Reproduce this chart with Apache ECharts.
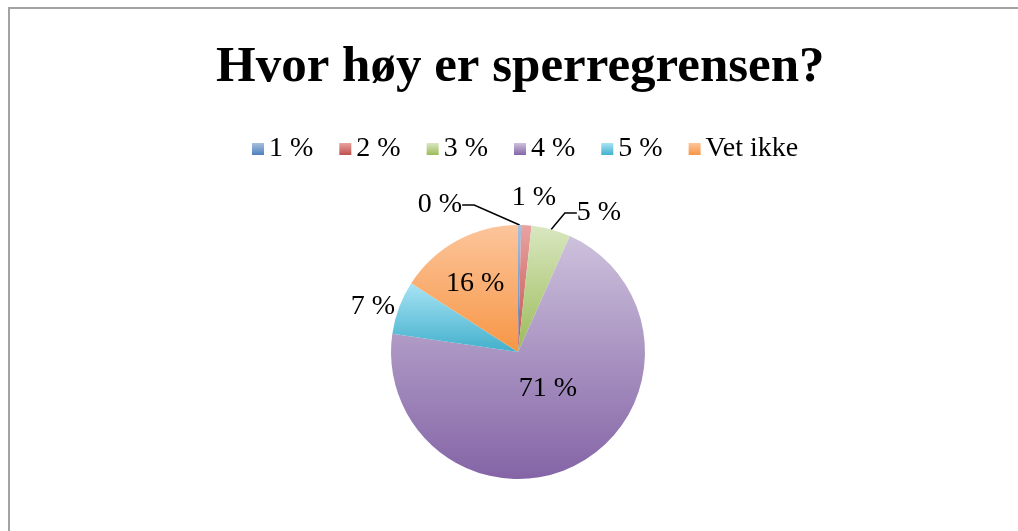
<!DOCTYPE html>
<html>
<head>
<meta charset="utf-8">
<script src="https://cdn.jsdelivr.net/npm/echarts@6/dist/echarts.min.js"></script>
<style>
    html, body {margin: 0; padding: 0; background: #fff;}
    #chart {width: 1018px; height: 531px;}
</style>
</head>
<body>
<div id="chart"></div>
<script>
    const titleText = 'Hvor høy er sperregrensen?';
    const categories = ['1 %', '2 %', '3 %', '4 %', '5 %', 'Vet ikke'];
    const shares = [0.4, 1.3, 5.0, 70.6, 6.8, 15.9];
    const topColors = ['#a7bfde', '#e8a3a1', '#d9e7c0', '#cdc1dc', '#a8e3f4', '#fcc59b'];
    const bottomColors = ['#4f81bd', '#c0504d', '#9bbb59', '#8464a6', '#42b0cc', '#f79646'];

    // which labels sit inside the slice, which get a leader line
    const insideLabels = ['4 %', 'Vet ikke'];
    const noLine = ['2 %', '5 %'];

    const font = '"Liberation Serif", "DejaVu Serif", serif';

    const chart = echarts.init(document.getElementById('chart'));

    const pieData = categories.map((name, i) => {
        const item = {
            name: name,
            value: shares[i],
            itemStyle: {
                color: new echarts.graphic.LinearGradient(0, 0, 0, 1, [
                    {offset: 0, color: topColors[i]},
                    {offset: 1, color: bottomColors[i]}
                ])
            }
        };
        if (insideLabels.includes(name)) {
            item.label = {position: 'inside'};
        }
        if (noLine.includes(name)) {
            item.labelLine = {show: false};
        }
        return item;
    });

    // nudges so labels land where the original put them
    const labelNudge = {
        0: {x: 440, y: 205, align: 'center', verticalAlign: 'middle'},
        1: {x: 534, y: 198, align: 'center', verticalAlign: 'middle'},
        2: {x: 599, y: 213, align: 'center', verticalAlign: 'middle'},
        3: {dx: -2, dy: -22},
        4: {x: 373, y: 307, align: 'center', verticalAlign: 'middle'},
        5: {dx: -11, dy: -10}
    };

    const option = {
        animation: false,
        backgroundColor: '#fff',
        title: {
            text: titleText,
            left: 211,
            top: 37,
            textStyle: {
                fontFamily: font,
                fontWeight: 'bold',
                fontSize: 51,
                color: '#000'
            }
        },
        legend: {
            data: categories,
            top: 130,
            left: 247,
            icon: 'rect',
            itemWidth: 12,
            itemHeight: 12,
            itemGap: 26,
            textStyle: {
                fontFamily: font,
                fontSize: 28,
                color: '#000'
            }
        },
        graphic: [{
            type: 'polyline',
            shape: {points: [[9, 531], [9, 8], [1018, 8]]},
            style: {stroke: '#a3a3a3', lineWidth: 2, fill: null}
        }],
        series: [{
            type: 'pie',
            center: [518, 352],
            radius: 127,
            startAngle: 90,
            clockwise: true,
            avoidLabelOverlap: false,
            data: pieData,
            label: {
                position: 'outside',
                fontFamily: font,
                fontSize: 28,
                color: '#000',
                formatter: p => Math.round(p.value) + ' %'
            },
            labelLine: {
                show: true,
                length: 12,
                length2: 12,
                lineStyle: {color: '#000', width: 1.5}
            },
            labelLayout: function (params) {
                const n = labelNudge[params.dataIndex];
                if (!n) return {};
                if (n.x != null) return {x: n.x, y: n.y, align: n.align, verticalAlign: n.verticalAlign};
                return {dx: n.dx, dy: n.dy};
            },
            emphasis: {disabled: true}
        }]
    };

    chart.setOption(option);
</script>
</body>
</html>
